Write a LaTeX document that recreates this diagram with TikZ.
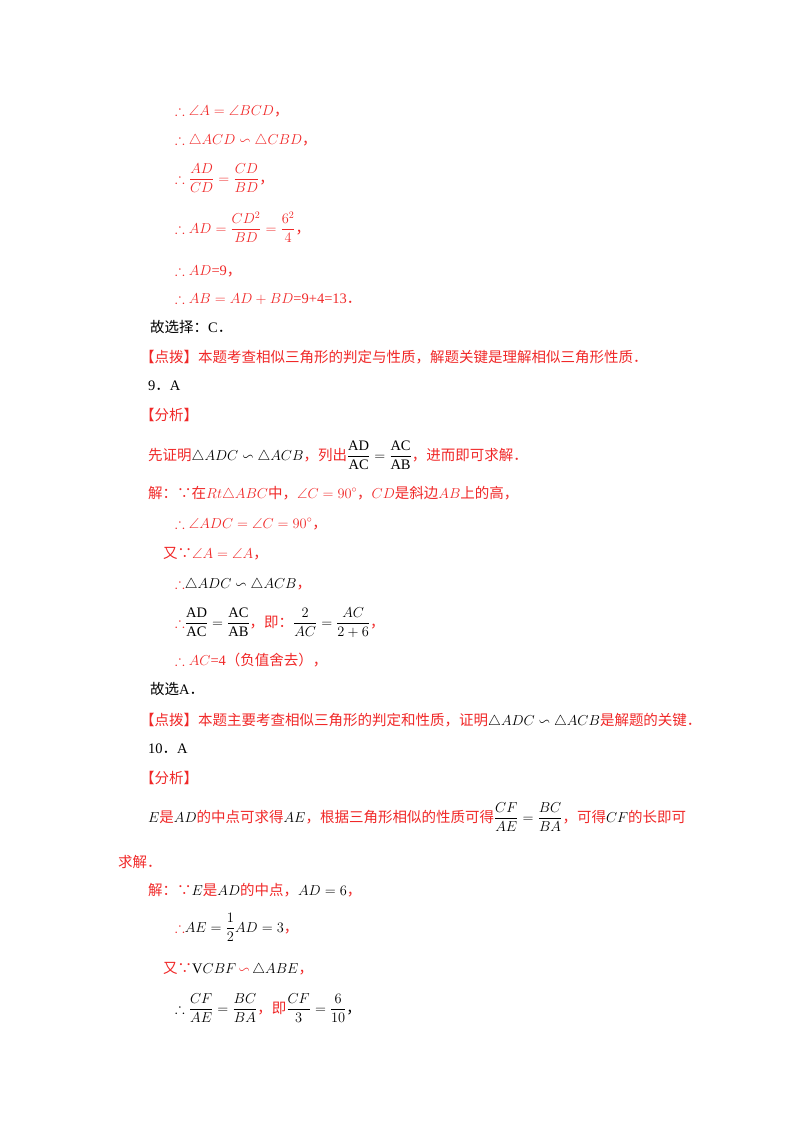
\documentclass[tikz,border=0pt]{standalone}
\usepackage{amsmath,amssymb}
\usepackage{fontspec}
\setmainfont{Liberation Serif}
\newfontfamily\cjk{Noto Sans CJK SC}
\newcommand\zh[1]{{\cjk #1}}
\definecolor{rd}{RGB}{240,40,40}
\begin{document}
\begin{tikzpicture}[x=1pt,y=-1pt,
  t/.style={anchor=base west,inner sep=0pt,font=\fontsize{14.5}{17}\selectfont},
  r/.style={t,text=rd},
  k/.style={t,text=black}]
\useasboundingbox (0,0) rectangle (800,1132);
\node[r] (l1) at (175,115) {$\therefore\angle A=\angle BCD$\zh{，}};
\node[r] (l2) at (175,144) {$\therefore\triangle ACD\backsim\triangle CBD$\zh{，}};
\node[r] (l3) at (175,183) {$\therefore \dfrac{AD}{CD}=\dfrac{CD}{BD}$\zh{，}};
\node[r] (l4) at (175,233) {$\therefore AD=\dfrac{CD^2}{BD}=\dfrac{6^2}{4}$\zh{，}};
\node[r] (l5) at (175,275) {$\therefore AD$=9\zh{，}};
\node[r] (l6) at (175,303) {$\therefore AB=AD+BD$=9+4=13\zh{．}};
\node[k] (l7) at (150,332) {\zh{故选择：}C\zh{．}};
\node[r] (l8) at (140,362) {\zh{【点拨】本题考查相似三角形的判定与性质，解题关键是理解相似三角形性质．}};
\node[k] (l9) at (148,390) {9\zh{．}A};
\node[r] (l10) at (140,420) {\zh{【分析】}};
\node[r] (l11) at (148,460) {\zh{先证明}\textcolor{black}{$\triangle ADC\backsim\triangle ACB$}\zh{，列出}\textcolor{black}{$\dfrac{\mathrm{AD}}{\mathrm{AC}}=\dfrac{\mathrm{AC}}{\mathrm{AB}}$}\zh{，进而即可求解．}};
\node[r] (l12) at (148,498) {\zh{解：∵在}$Rt\triangle ABC$\zh{中，}$\angle C=90^\circ$\zh{，}$CD$\zh{是斜边}$AB$\zh{上的高，}};
\node[r] (l13) at (175,528) {$\therefore\angle ADC=\angle C=90^\circ$\zh{，}};
\node[r] (l14) at (163,558) {\zh{又∵}$\angle A=\angle A$\zh{，}};
\node[r] (l15) at (175,588) {$\therefore$\textcolor{black}{$\triangle ADC\backsim\triangle ACB$}\zh{，}};
\node[r] (l16) at (175,627) {$\therefore$\textcolor{black}{$\dfrac{\mathrm{AD}}{\mathrm{AC}}=\dfrac{\mathrm{AC}}{\mathrm{AB}}$}\zh{，即：}\textcolor{black}{$\dfrac{2}{AC}=\dfrac{AC}{2+6}$}\zh{，}};
\node[r] (l17) at (175,665) {$\therefore AC$=4\zh{（负值舍去），}};
\node[k] (l18) at (150,694) {\zh{故选}A\zh{．}};
\node[r] (l19) at (140,725) {\zh{【点拨】本题主要考查相似三角形的判定和性质，证明}\textcolor{black}{$\triangle ADC\backsim\triangle ACB$}\zh{是解题的关键．}};
\node[k] (l20) at (148,753) {10\zh{．}A};
\node[r] (l21) at (140,783) {\zh{【分析】}};
\node[r] (l22) at (148,822) {\textcolor{black}{$E$}\zh{是}\textcolor{black}{$AD$}\zh{的中点可求得}\textcolor{black}{$AE$}\zh{，根据三角形相似的性质可得}\textcolor{black}{$\dfrac{CF}{AE}=\dfrac{BC}{BA}$}\zh{，可得}\textcolor{black}{$CF$}\zh{的长即可}};
\node[r] (l23) at (118,867) {\zh{求解．}};
\node[r] (l24) at (148,895) {\zh{解：∵}\textcolor{black}{$E$}\zh{是}\textcolor{black}{$AD$}\zh{的中点，}\textcolor{black}{$AD=6$}\zh{，}};
\node[r] (l25) at (175,932) {$\therefore$\textcolor{black}{$AE=\dfrac12AD=3$}\zh{，}};
\node[r] (l26) at (163,973) {\zh{又∵}\textcolor{black}{V$CBF$}\,$\backsim$\,\textcolor{black}{$\triangle ABE$}\zh{，}};
\node[k] (l27) at (175,1013) {$\therefore\dfrac{CF}{AE}=\dfrac{BC}{BA}$\textcolor{rd}{\zh{，即}}$\dfrac{CF}{3}=\dfrac{6}{10}$\zh{，}};
\end{tikzpicture}
\end{document}
